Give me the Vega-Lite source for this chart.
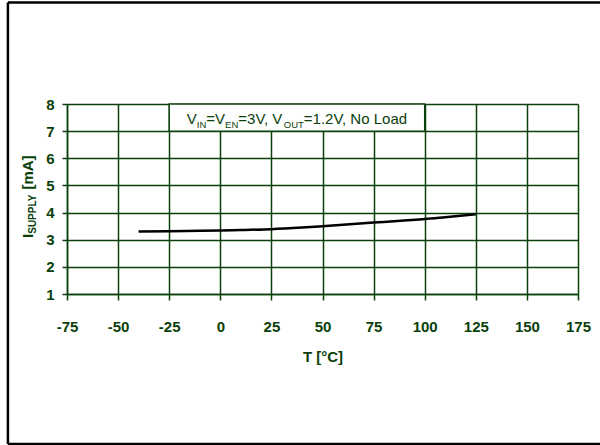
{
  "$schema": "https://vega.github.io/schema/vega-lite/v6.json",
  "width": 511,
  "height": 190,
  "autosize": {"type": "none"},
  "padding": {"left": 67, "top": 104, "right": 22, "bottom": 151},
  "background": "white",
  "config": {"view": {"stroke": null}, "font": "Liberation Sans"},
  "datasets": {
    "curve": [
      {"T": -40, "I": 3.30}, {"T": -25, "I": 3.31}, {"T": -10, "I": 3.33}, {"T": 0, "I": 3.34},
      {"T": 10, "I": 3.36}, {"T": 25, "I": 3.39}, {"T": 40, "I": 3.45}, {"T": 50, "I": 3.50},
      {"T": 60, "I": 3.55}, {"T": 75, "I": 3.63}, {"T": 90, "I": 3.71}, {"T": 100, "I": 3.76},
      {"T": 110, "I": 3.83}, {"T": 125, "I": 3.94}
    ],
    "box": [{"T": -25, "T2": 100, "I": 7, "I2": 8}],
    "note": [{"T": -16.4, "I": 7.26}],
    "ytitle": [{"T": -91.6, "I": 3.06}],
    "frame": [{"T": -103.9, "T2": 200, "I": -4.53, "I2": 11.74}]
  },
  "layer": [
    {
      "data": {"name": "box"},
      "mark": {"type": "rect", "fill": "white", "stroke": "#0a400a", "strokeWidth": 1.5},
      "encoding": {
        "x": {"field": "T", "type": "quantitative", "scale": {"domain": [-75, 175], "nice": false, "zero": false},
          "axis": {"values": [-75, -50, -25, 0, 25, 50, 75, 100, 125, 150, 175], "tickCount": 20, "title": "T [°C]",
            "labelExpr": "'' + datum.value", "labelOverlap": false,
            "grid": true, "gridColor": "#0a400a", "gridWidth": 1.5, "gridOpacity": 1,
            "domainColor": "#0a400a", "domainWidth": 1.5, "tickColor": "#0a400a", "tickWidth": 1.5, "tickSize": 6,
            "labelFont": "Liberation Sans", "labelFontSize": 15, "labelFontWeight": "bold", "labelColor": "#0a400a",
            "labelPadding": 19, "labelFlush": false,
            "titleFont": "Liberation Sans", "titleFontSize": 15, "titleFontWeight": "bold", "titleColor": "#0a400a", "titlePadding": 15}},
        "x2": {"field": "T2"},
        "y": {"field": "I", "type": "quantitative", "scale": {"domain": [1, 8], "nice": false, "zero": false},
          "axis": {"values": [1, 2, 3, 4, 5, 6, 7, 8], "tickCount": 20, "title": null, "labelOverlap": false,
            "labelExpr": "'' + datum.value",
            "grid": true, "gridColor": "#0a400a", "gridWidth": 1.5, "gridOpacity": 1,
            "domainColor": "#0a400a", "domainWidth": 1.5, "tickColor": "#0a400a", "tickWidth": 1.5, "tickSize": 5,
            "labelFont": "Liberation Sans", "labelFontSize": 15, "labelFontWeight": "bold", "labelColor": "#0a400a",
            "labelPadding": 8, "labelFlush": false}},
        "y2": {"field": "I2"}
      }
    },
    {
      "data": {"name": "curve"},
      "mark": {"type": "line", "color": "black", "strokeWidth": 2.5, "interpolate": "monotone"},
      "encoding": {
        "x": {"field": "T", "type": "quantitative"},
        "y": {"field": "I", "type": "quantitative"}
      }
    },
    {
      "data": {"name": "note"},
      "encoding": {
        "x": {"field": "T", "type": "quantitative"},
        "y": {"field": "I", "type": "quantitative"}
      },
      "layer": [
        {"mark": {"type": "text", "text": "V", "align": "left", "baseline": "alphabetic", "fontSize": 15, "color": "#0a400a", "dx": 0}},
        {"mark": {"type": "text", "text": "IN", "align": "left", "baseline": "alphabetic", "fontSize": 9.5, "color": "#0a400a", "dx": 10, "dy": 4}},
        {"mark": {"type": "text", "text": "=V", "align": "left", "baseline": "alphabetic", "fontSize": 15, "color": "#0a400a", "dx": 19.5}},
        {"mark": {"type": "text", "text": "EN", "align": "left", "baseline": "alphabetic", "fontSize": 9.5, "color": "#0a400a", "dx": 38.3, "dy": 4}},
        {"mark": {"type": "text", "text": "=3V, V", "align": "left", "baseline": "alphabetic", "fontSize": 15, "color": "#0a400a", "dx": 51.5}},
        {"mark": {"type": "text", "text": "OUT", "align": "left", "baseline": "alphabetic", "fontSize": 9.5, "color": "#0a400a", "dx": 97, "dy": 4}},
        {"mark": {"type": "text", "text": "=1.2V, No Load", "align": "left", "baseline": "alphabetic", "fontSize": 15, "color": "#0a400a", "dx": 117}}
      ]
    },
    {
      "data": {"name": "ytitle"},
      "encoding": {
        "x": {"field": "T", "type": "quantitative"},
        "y": {"field": "I", "type": "quantitative"}
      },
      "layer": [
        {"mark": {"type": "text", "text": "I", "angle": 270, "align": "left", "baseline": "alphabetic", "fontSize": 15, "fontWeight": "bold", "color": "#0a400a", "dx": 0}},
        {"mark": {"type": "text", "text": "SUPPLY", "angle": 270, "align": "left", "baseline": "alphabetic", "fontSize": 10, "fontWeight": "bold", "color": "#0a400a", "dx": 4.3, "dy": 3}},
        {"mark": {"type": "text", "text": "[mA]", "angle": 270, "align": "left", "baseline": "alphabetic", "fontSize": 15, "fontWeight": "bold", "color": "#0a400a", "dx": 48.5}}
      ]
    },
    {
      "data": {"name": "frame"},
      "layer": [
        {"mark": {"type": "rule", "color": "black", "strokeWidth": 2.5},
          "encoding": {"x": {"field": "T", "type": "quantitative"}, "y": {"field": "I", "type": "quantitative"}, "y2": {"field": "I2"}}},
        {"mark": {"type": "rule", "color": "black", "strokeWidth": 2.5},
          "encoding": {"x": {"field": "T", "type": "quantitative"}, "x2": {"field": "T2"}, "y": {"field": "I2", "type": "quantitative"}}},
        {"mark": {"type": "rule", "color": "black", "strokeWidth": 2.5},
          "encoding": {"x": {"field": "T", "type": "quantitative"}, "x2": {"field": "T2"}, "y": {"field": "I", "type": "quantitative"}}}
      ]
    }
  ]
}
